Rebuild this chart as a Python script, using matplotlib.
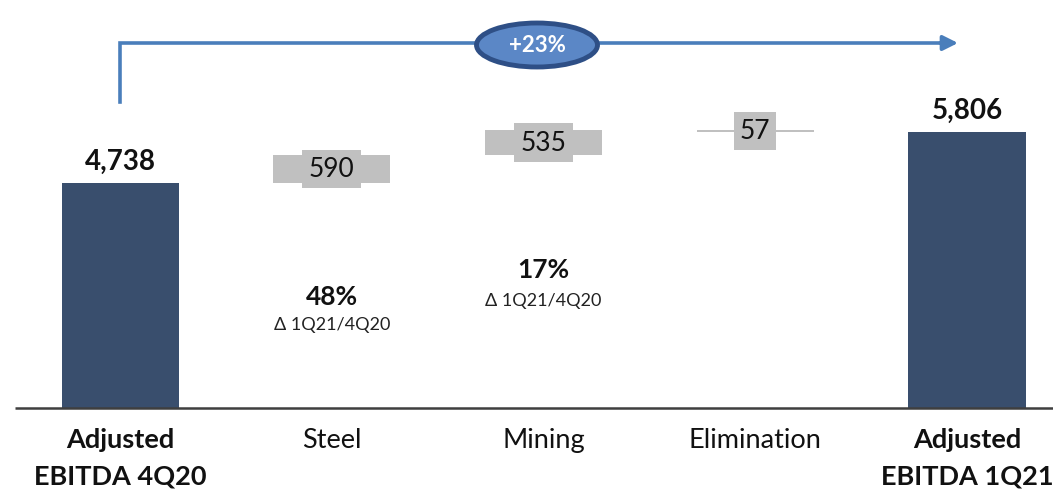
import matplotlib
matplotlib.use("Agg")
import matplotlib.pyplot as plt
from matplotlib.patches import Rectangle, Ellipse

# Waterfall data (R$ million)
categories = ["Adjusted\nEBITDA 4Q20", "Steel", "Mining", "Elimination", "Adjusted\nEBITDA 1Q21"]
start_value = 4738
deltas = [590, 535, -57]
end_value = 5806
growth_labels = ["48%", "17%", None]
growth_caption = "\u0394 1Q21/4Q20"
total_change = "+23%"

W, H = 1053, 491
DPI = 100
fig = plt.figure(figsize=(W / DPI, H / DPI), dpi=DPI)
ax = fig.add_axes([0, 0, 1, 1])
ax.set_axis_off()

plt.rcParams["font.family"] = ["Lato", "DejaVu Sans"]

# Scale: category spacing and value-per-pixel
x0_px, dx_px = 120, 211.75
base_px = 408
px_per_unit = 225 / 4738.0
ax.set_xlim(-x0_px / dx_px, (W - x0_px) / dx_px)
ax.set_ylim(-(H - base_px) / px_per_unit, base_px / px_per_unit)


def px(xp, yp):
    """Convert pixel position (from top-left) to data coordinates."""
    return (xp - x0_px) / dx_px, (base_px - yp) / px_per_unit


def wpx(w):
    return w / dx_px


def hpx(h):
    return h / px_per_unit


navy = "#394E6D"
gray = "#C0C0C0"
blue = "#4A7EBB"
bar_w = wpx(117)

# Total bars
xs = list(range(len(categories)))
ax.bar([xs[0], xs[-1]], [start_value, end_value], width=bar_w, color=navy, zorder=2)
for x, v in [(xs[0], start_value), (xs[-1], end_value)]:
    ax.text(x, v + hpx(8), f"{v:,}", ha="center", va="bottom",
            fontsize=20, fontweight="bold", color="#111111", zorder=4)

# Floating delta bars with value boxes
level = start_value
box_sizes = [(59, 38), (59, 39), (42, 38)]
for i, d in enumerate(deltas):
    x = xs[i + 1]
    lo, hi = min(level, level + d), max(level, level + d)
    hgt = max(hi - lo, hpx(2.5))
    ax.bar(x, hgt, bottom=lo if hi - lo > hpx(2.5) else (lo + hi) / 2 - hgt / 2,
           width=bar_w, color=gray, zorder=2)
    mid = (lo + hi) / 2
    bw, bh = box_sizes[i]
    ax.add_patch(Rectangle((x - wpx(bw) / 2, mid - hpx(bh) / 2), wpx(bw), hpx(bh),
                           facecolor=gray, edgecolor="none", zorder=3))
    ax.text(x, mid - hpx(1), f"{abs(d)}", ha="center", va="center",
            fontsize=19, color="#111111", zorder=4)
    level += d

# Growth annotations under the delta bars
growth_pos = [(297, 325), (270, 301)]
for i, g in enumerate(growth_labels):
    if g is None:
        continue
    x = xs[i + 1]
    y1 = px(0, growth_pos[i][0])[1]
    y2 = px(0, growth_pos[i][1])[1]
    ax.text(x, y1, g, ha="center", va="center", fontsize=19, fontweight="bold", color="#111111")
    ax.text(x, y2, growth_caption, ha="center", va="center", fontsize=13, color="#222222")

# Baseline
bx0, by = px(15, base_px)
bx1, _ = px(W, base_px)
ax.plot([bx0, bx1], [by, by], color="#3F3F3F", lw=1.8, zorder=3, solid_capstyle="butt")

# Category labels
for x, c in zip(xs, categories):
    bold = "\n" in c
    ax.text(x, px(0, 428)[1], c, ha="center", va="top", fontsize=19.5,
            fontweight="bold" if bold else "normal", color="#111111",
            linespacing=1.6)

# Growth arrow across the top
ax_, ay_top = px(120, 43)
_, ay_bot = px(120, 102)
ex, _ = px(958, 43)
ax.plot([ax_, ax_, px(945, 43)[0]], [ay_bot, ay_top, ay_top], color=blue, lw=2.6,
        solid_joinstyle="miter", zorder=3)
ax.annotate("", xy=(ex, ay_top), xytext=(px(940, 43)[0], ay_top),
            arrowprops=dict(arrowstyle="-|>,head_length=0.9,head_width=0.45",
                            color=blue, lw=2.6, shrinkA=0, shrinkB=0), zorder=3)

# Ellipse with total change
ecx, ecy = px(537, 45)
ax.add_patch(Ellipse((ecx, ecy), wpx(121), hpx(44), facecolor="#5B87C6",
                     edgecolor="#2E4F86", lw=3.5, zorder=5))
ax.text(ecx, ecy, total_change, ha="center", va="center", fontsize=16,
        fontweight="bold", color="white", zorder=6)

fig.savefig("out.png", dpi=DPI)
